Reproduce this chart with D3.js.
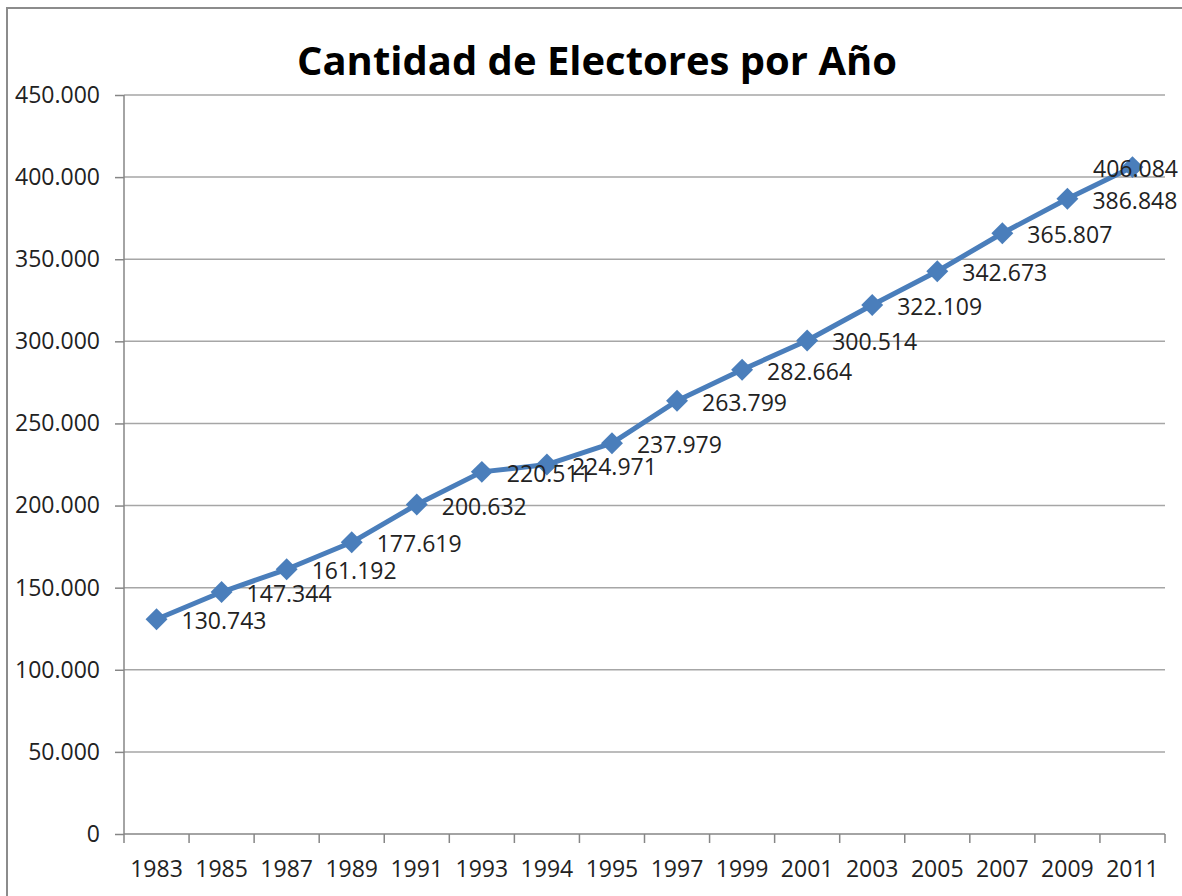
<!DOCTYPE html>
<html>
<head>
<meta charset="utf-8">
<script src="https://cdn.jsdelivr.net/npm/d3@7"></script>
<style>
  body { margin: 0; background: #fff; }
  text { font-family: "Open Sans", sans-serif; fill: #222; }
</style>
</head>
<body>
<svg width="1182" height="896"></svg>
<script>
const years = ["1983", "1985", "1987", "1989", "1991", "1993", "1994", "1995",
    "1997", "1999", "2001", "2003", "2005", "2007", "2009", "2011"];
const electores = [130743, 147344, 161192, 177619, 200632, 220511, 224971, 237979,
    263799, 282664, 300514, 322109, 342673, 365807, 386848, 406084];
const yTicks = [0, 50000, 100000, 150000, 200000, 250000, 300000, 350000, 400000, 450000];

const svg = d3.select("svg"),
    width = +svg.attr("width"),
    height = +svg.attr("height");

const margin = {top: 95, right: 17, bottom: 62, left: 124};

// spanish style thousands separator
const fmt = d3.formatLocale({decimal: ",", thousands: ".", grouping: [3], currency: ["", ""]}).format(",");

const x = d3.scaleBand()
    .domain(years)
    .range([margin.left, width - margin.right]);

const y = d3.scaleLinear()
    .domain([0, 450000])
    .range([height - margin.bottom, margin.top]);

// chart border
svg.append("path")
    .attr("d", "M7,896 V8 H1182")
    .attr("fill", "none")
    .attr("stroke", "#8c8c8c")
    .attr("stroke-width", 2);

// title
svg.append("text")
    .attr("x", 297)
    .attr("y", 75)
    .attr("font-size", 40)
    .attr("font-weight", "bold")
    .attr("textLength", 600)
    .attr("lengthAdjust", "spacingAndGlyphs")
    .style("fill", "#000")
    .text("Cantidad de Electores por Año");

// gridlines
svg.append("g")
    .selectAll("line")
    .data(yTicks.filter(d => d > 0))
    .enter().append("line")
    .attr("x1", margin.left)
    .attr("x2", width - margin.right)
    .attr("y1", d => y(d))
    .attr("y2", d => y(d))
    .attr("stroke", "#a6a6a6")
    .attr("stroke-width", 1.5);

// y axis
const yAxis = svg.append("g")
    .attr("transform", "translate(" + margin.left + ",0)")
    .call(d3.axisLeft(y)
        .tickValues(yTicks)
        .tickSize(9)
        .tickPadding(15)
        .tickFormat(d => d === 0 ? "0" : fmt(d)));
yAxis.selectAll("path, line").attr("stroke", "#868686").attr("stroke-width", 1.5);
yAxis.select(".domain").attr("d", "M0," + y(450000) + "V" + y(0));
yAxis.selectAll("text")
    .attr("font-size", 23)
    .attr("font-family", "Open Sans")
    .attr("fill", "#222");

// x axis (ticks at band edges)
const xAxis = svg.append("g")
    .attr("transform", "translate(0," + y(0) + ")");
xAxis.append("line")
    .attr("x1", margin.left)
    .attr("x2", width - margin.right)
    .attr("stroke", "#868686")
    .attr("stroke-width", 1.5);
xAxis.selectAll(".tick")
    .data(years.map(d => x(d)).concat([x.range()[1]]))
    .enter().append("line")
    .attr("x1", d => d)
    .attr("x2", d => d)
    .attr("y1", 0)
    .attr("y2", 9)
    .attr("stroke", "#868686")
    .attr("stroke-width", 1.5);
xAxis.selectAll("text")
    .data(years)
    .enter().append("text")
    .attr("x", d => x(d) + x.bandwidth() / 2)
    .attr("y", 43)
    .attr("text-anchor", "middle")
    .attr("font-size", 23)
    .text(d => d);

// line
const cx = (d, i) => x(years[i]) + x.bandwidth() / 2;

svg.append("path")
    .datum(electores)
    .attr("fill", "none")
    .attr("stroke", "#4a7ebb")
    .attr("stroke-width", 5)
    .attr("stroke-linejoin", "round")
    .attr("d", d3.line().x(cx).y(d => y(d)));

// markers
svg.append("g")
    .selectAll("path")
    .data(electores)
    .enter().append("path")
    .attr("d", d3.symbol().type(d3.symbolSquare).size(240))
    .attr("transform", (d, i) => "translate(" + cx(d, i) + "," + y(d) + ") rotate(45)")
    .attr("fill", "#4a7ebb");

// data labels
svg.append("g")
    .selectAll("text")
    .data(electores)
    .enter().append("text")
    .attr("font-size", 23)
    .attr("x", (d, i) => cx(d, i) + 25)
    .attr("y", d => y(d) + 10)
    .text(d => fmt(d))
    .each(function() {
        // keep label inside the chart area like excel does
        const w = this.getComputedTextLength();
        const px = +d3.select(this).attr("x");
        if (px + w > width - 4) d3.select(this).attr("x", width - 4 - w);
    });
</script>
</body>
</html>
